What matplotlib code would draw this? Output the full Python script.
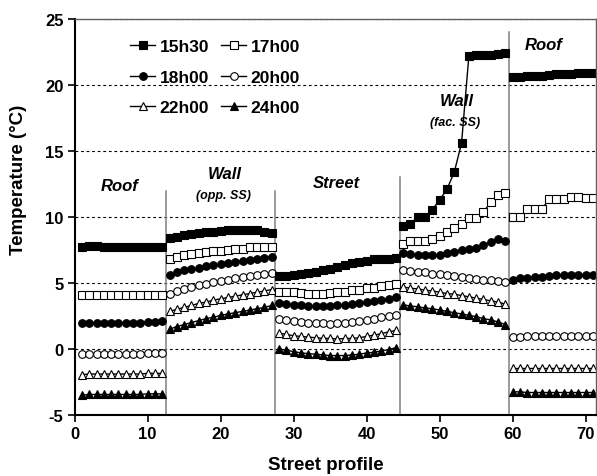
import numpy as np
import matplotlib
matplotlib.use('Agg')
import matplotlib.pyplot as plt

plt.rcParams['font.family'] = ['Liberation Sans', 'DejaVu Sans']
plt.rcParams['font.weight'] = 'bold'
plt.rcParams['axes.unicode_minus'] = False

# segment x positions along the street profile
x_roof_l = np.arange(1, 13)
x_wall_opp = np.arange(13, 28)
x_street = np.arange(28, 45)
x_wall_fac = np.arange(45, 60)
x_roof_r = np.arange(60, 72)

# segment boundaries and how high the separator goes
bounds = [12.5, 27.5, 44.5, 59.5]
bound_tops = [12.0, 12.0, 13.0, 24.0]

times = ['15h30', '17h00', '18h00', '20h00', '22h00', '24h00']

roof_l = {
    '15h30': [7.7, 7.8, 7.8, 7.75, 7.7, 7.7, 7.7, 7.7, 7.7, 7.75, 7.75, 7.75],
    '17h00': [4.1] * 12,
    '18h00': [1.95, 1.95, 2.0, 2.0, 2.0, 2.0, 2.0, 2.0, 2.0, 2.05, 2.05, 2.1],
    '20h00': [-0.35, -0.35, -0.35, -0.35, -0.35, -0.35, -0.35, -0.35, -0.35, -0.3, -0.3, -0.3],
    '22h00': [-1.95, -1.9, -1.9, -1.9, -1.9, -1.9, -1.9, -1.9, -1.9, -1.85, -1.85, -1.85],
    '24h00': [-3.5, -3.45, -3.45, -3.45, -3.45, -3.45, -3.45, -3.45, -3.45, -3.4, -3.4, -3.4],
}
wall_opp = {
    '15h30': [8.4, 8.5, 8.6, 8.7, 8.75, 8.85, 8.9, 8.95, 9.0, 9.05, 9.05, 9.0, 9.0, 8.9, 8.8],
    '17h00': [6.8, 7.0, 7.1, 7.2, 7.3, 7.35, 7.4, 7.45, 7.5, 7.55, 7.6, 7.7, 7.7, 7.7, 7.7],
    '18h00': [5.6, 5.8, 5.95, 6.05, 6.15, 6.25, 6.35, 6.45, 6.5, 6.6, 6.7, 6.75, 6.85, 6.9, 7.0],
    '20h00': [4.2, 4.4, 4.55, 4.7, 4.85, 4.95, 5.05, 5.15, 5.25, 5.35, 5.45, 5.55, 5.6, 5.7, 5.75],
    '22h00': [2.85, 3.0, 3.15, 3.3, 3.45, 3.55, 3.7, 3.8, 3.9, 4.0, 4.1, 4.2, 4.3, 4.4, 4.5],
    '24h00': [1.5, 1.7, 1.85, 2.0, 2.15, 2.3, 2.4, 2.55, 2.65, 2.75, 2.85, 2.95, 3.05, 3.15, 3.3],
}
street = {
    '15h30': [5.5, 5.55, 5.6, 5.65, 5.75, 5.85, 5.95, 6.05, 6.2, 6.35, 6.5, 6.6, 6.7, 6.8, 6.85, 6.85, 6.9],
    '17h00': [4.35, 4.3, 4.3, 4.25, 4.2, 4.2, 4.2, 4.25, 4.3, 4.35, 4.45, 4.5, 4.6, 4.65, 4.75, 4.85, 4.95],
    '18h00': [3.45, 3.4, 3.35, 3.3, 3.25, 3.25, 3.25, 3.25, 3.3, 3.35, 3.4, 3.45, 3.55, 3.6, 3.7, 3.8, 3.9],
    '20h00': [2.3, 2.2, 2.1, 2.05, 2.0, 1.95, 1.95, 1.9, 1.95, 2.0, 2.05, 2.1, 2.2, 2.3, 2.4, 2.5, 2.6],
    '22h00': [1.2, 1.1, 1.0, 0.95, 0.9, 0.85, 0.8, 0.8, 0.75, 0.8, 0.8, 0.85, 0.95, 1.05, 1.15, 1.3, 1.4],
    '24h00': [0.0, -0.1, -0.2, -0.3, -0.35, -0.4, -0.45, -0.5, -0.5, -0.5, -0.45, -0.4, -0.3, -0.25, -0.15, -0.05, 0.1],
}
wall_fac = {
    '15h30': [9.3, 9.5, 10.0, 10.0, 10.55, 11.3, 12.1, 13.4, 15.6, 22.2, 22.25, 22.3, 22.3, 22.35, 22.4],
    '17h00': [7.95, 8.15, 8.2, 8.15, 8.35, 8.55, 8.85, 9.15, 9.45, 9.9, 9.9, 10.4, 11.1, 11.7, 11.8],
    '18h00': [7.25, 7.2, 7.15, 7.1, 7.1, 7.15, 7.25, 7.35, 7.5, 7.6, 7.65, 7.85, 8.1, 8.3, 8.2],
    '20h00': [5.95, 5.9, 5.85, 5.8, 5.7, 5.65, 5.6, 5.5, 5.45, 5.4, 5.3, 5.25, 5.2, 5.15, 5.05],
    '22h00': [4.7, 4.6, 4.55, 4.45, 4.4, 4.3, 4.2, 4.15, 4.05, 3.95, 3.85, 3.75, 3.65, 3.55, 3.4],
    '24h00': [3.35, 3.25, 3.2, 3.1, 3.05, 2.95, 2.85, 2.75, 2.65, 2.55, 2.45, 2.3, 2.2, 2.05, 1.85],
}
roof_r = {
    '15h30': [20.6, 20.6, 20.65, 20.7, 20.7, 20.75, 20.8, 20.8, 20.85, 20.9, 20.9, 20.9],
    '17h00': [10.0, 10.0, 10.6, 10.6, 10.6, 11.35, 11.35, 11.4, 11.5, 11.5, 11.45, 11.45],
    '18h00': [5.25, 5.35, 5.4, 5.45, 5.45, 5.55, 5.6, 5.6, 5.6, 5.6, 5.6, 5.6],
    '20h00': [0.9, 0.9, 0.95, 0.95, 0.95, 0.95, 0.95, 0.95, 0.95, 0.95, 0.95, 0.95],
    '22h00': [-1.45, -1.45, -1.45, -1.45, -1.45, -1.45, -1.45, -1.45, -1.45, -1.45, -1.45, -1.45],
    '24h00': [-3.25, -3.25, -3.3, -3.3, -3.3, -3.3, -3.3, -3.3, -3.3, -3.3, -3.3, -3.3],
}

segments = [(x_roof_l, roof_l), (x_wall_opp, wall_opp), (x_street, street),
            (x_wall_fac, wall_fac), (x_roof_r, roof_r)]

styles = {
    '15h30': dict(marker='s', mfc='black'),
    '17h00': dict(marker='s', mfc='white'),
    '18h00': dict(marker='o', mfc='black'),
    '20h00': dict(marker='o', mfc='white'),
    '22h00': dict(marker='^', mfc='white'),
    '24h00': dict(marker='^', mfc='black'),
}

fig = plt.figure(figsize=(5.97, 4.77), dpi=100)
ax = fig.add_axes([0.1251, 0.128, 0.873, 0.83])

handles = {}
for xs, seg in segments:
    for t in times:
        ln, = ax.plot(xs, seg[t], color='black', lw=1, ms=5.5, mec='black',
                      mew=0.8, **styles[t])
        handles[t] = ln

# separators between profile parts
for b, top in zip(bounds, bound_tops):
    ax.plot([b, b], [-5, top], color='#808080', lw=1.1, zorder=1)

ax.set_xlim(0, 71.4)
ax.set_ylim(-5, 25)
ax.set_xticks(range(0, 71, 10))
ax.set_yticks(range(-5, 26, 5))
ax.yaxis.grid(True, color='black', lw=0.8, linestyle=(0, (2.5, 2.5)))
ax.set_axisbelow(True)
ax.tick_params(direction='out', length=5, width=1.2, labelsize=12, pad=3)
for s in ['left', 'bottom']:
    ax.spines[s].set_linewidth(1.5)
for s in ['top', 'right']:
    ax.spines[s].set_linewidth(1.0)
    ax.spines[s].set_color('#606060')

ax.set_xlabel('Street profile', fontsize=13.5, fontweight='bold')
ax.set_ylabel('Temperature (\u00b0C)', fontsize=13.5, fontweight='bold')
ax.xaxis.set_label_coords(0.482, -0.104)
ax.yaxis.set_label_coords(-0.092, 0.596)

# part labels
big = dict(fontsize=12, fontweight='bold', style='italic', ha='center', va='center')
small = dict(fontsize=9, fontweight='bold', style='italic', ha='center', va='center')
ax.text(6.2, 12.4, 'Roof', **big)
ax.text(20.6, 13.3, 'Wall', **big)
ax.text(20.4, 11.7, '(opp. SS)', **small)
ax.text(35.9, 12.6, 'Street', **big)
ax.text(52.3, 18.8, 'Wall', **big)
ax.text(52.1, 17.2, '(fac. SS)', **small)
ax.text(64.2, 23.1, 'Roof', **big)

order = ['15h30', '18h00', '22h00', '17h00', '20h00', '24h00']
ax.legend([handles[t] for t in order], order, ncol=2, frameon=False,
          loc='upper left', bbox_to_anchor=(130 / 597, 1 - 40 / 477),
          bbox_transform=fig.transFigure, borderpad=0, borderaxespad=0,
          prop={'weight': 'bold', 'size': 12.5}, handlelength=1.45,
          handletextpad=0.25, columnspacing=0.7, labelspacing=0.88)

fig.savefig('out.png', dpi=100)
